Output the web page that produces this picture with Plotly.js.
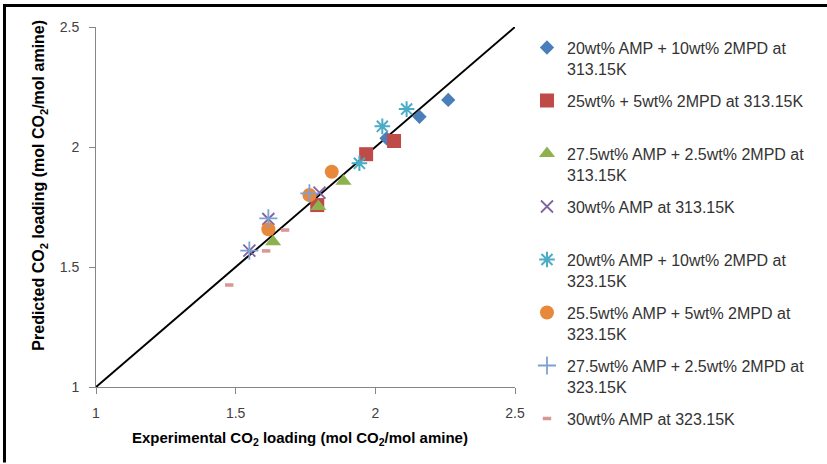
<!DOCTYPE html>
<html>
<head>
<meta charset="utf-8">
<script src="https://cdn.plot.ly/plotly-3.0.1.min.js"></script>
<style>html,body{margin:0;padding:0;background:#fff;}#chart{width:827px;height:464px;}</style>
</head>
<body>
<div id="chart"></div>
<script>
// Series labels (legend)
var seriesNames = [
  "20wt% AMP + 10wt% 2MPD at<br>313.15K",
  "25wt% + 5wt% 2MPD at 313.15K<br>&nbsp;",
  "27.5wt% AMP + 2.5wt% 2MPD at<br>313.15K",
  "30wt% AMP at 313.15K<br>&nbsp;",
  "20wt% AMP + 10wt% 2MPD at<br>323.15K",
  "25.5wt% AMP + 5wt% 2MPD at<br>323.15K",
  "27.5wt% AMP + 2.5wt% 2MPD at<br>323.15K",
  "30wt% AMP at 323.15K<br>&nbsp;"
];
// Experimental (x) and predicted (y) CO2 loading
var s1x = [2.040, 2.158, 2.261], s1y = [2.036, 2.126, 2.196];
var s2x = [1.792, 1.967, 2.067], s2y = [1.758, 1.970, 2.025];
var s3x = [1.634, 1.796, 1.886], s3y = [1.605, 1.752, 1.857];
var s4x = [1.549, 1.617, 1.800], s4y = [1.568, 1.700, 1.810];
var s5x = [1.943, 2.025, 2.112], s5y = [1.932, 2.086, 2.158];
var s6x = [1.617, 1.764, 1.844], s6y = [1.657, 1.800, 1.897];
var s7x = [1.549, 1.617, 1.764], s7y = [1.568, 1.703, 1.807];
var s8x = [1.477, 1.609, 1.677], s8y = [1.425, 1.567, 1.654];
// Parity line y = x
var parityX = [1, 2.5], parityY = [1, 2.5];
var tickVals = [1, 1.5, 2, 2.5];
var tickText = ["1", "1.5", "2", "2.5"];
var xTitle = "Experimental CO<sub>2</sub> loading (mol CO<sub>2</sub>/mol amine)";
var yTitle = "Predicted CO<sub>2</sub> loading (mol CO<sub>2</sub>/mol amine)";

var xs = [s1x, s2x, s3x, s4x, s5x, s6x, s7x, s8x];
var ys = [s1y, s2y, s3y, s4y, s5y, s6y, s7y, s8y];
var styles = [
  {symbol: "diamond", size: 11, color: "#4A7EBB", line: {width: 0}},
  {symbol: "square", size: 14, color: "#BE4B48", line: {width: 0}},
  {symbol: "triangle-up", size: 14, color: "#8EB04E", line: {width: 0}},
  {symbol: "x-thin-open", size: 12, color: "#8064A2", line: {width: 1.8, color: "#8064A2"}},
  {symbol: "asterisk-open", size: 13, color: "#4BACC6", line: {width: 2, color: "#4BACC6"}},
  {symbol: "circle", size: 14, color: "#E8883A", line: {width: 0}},
  {symbol: "cross-thin-open", size: 13, color: "#7EA1D3", line: {width: 1.8, color: "#7EA1D3"}},
  {symbol: "line-ew-open", size: 6, color: "#D99694", line: {width: 3.5, color: "#D99694"}}
];

var traces = [{
  x: parityX, y: parityY, mode: "lines", type: "scatter",
  line: {color: "#000000", width: 2}, showlegend: false, hoverinfo: "skip"
}];
for (var i = 0; i < seriesNames.length; i++) {
  traces.push({
    x: xs[i], y: ys[i], type: "scatter", mode: "markers",
    name: seriesNames[i], legendgroup: "g" + i,
    marker: styles[i]
  });
}

var axisCommon = {
  showgrid: false, zeroline: false, showline: true,
  linecolor: "#868686", linewidth: 1,
  ticks: "outside", ticklen: 6, tickcolor: "#868686",
  tickfont: {family: "Liberation Sans, Arial, sans-serif", size: 14, color: "#404040"},
  tickmode: "array", tickvals: tickVals, ticktext: tickText,
  range: [1, 2.5], fixedrange: true, ticklabelstandoff: 7
};

var layout = {
  width: 827, height: 464,
  margin: {l: 96, r: 312, t: 27, b: 77, pad: 0},
  paper_bgcolor: "#ffffff", plot_bgcolor: "#ffffff",
  xaxis: Object.assign({}, axisCommon),
  yaxis: Object.assign({}, axisCommon),
  showlegend: true,
  legend: {
    x: 1.0286, xanchor: "left", y: 0.99, yanchor: "top",
    font: {family: "Liberation Sans, Arial, sans-serif", size: 16, color: "#333333"},
    traceorder: "grouped", tracegroupgap: 8.4, valign: "top",
    bgcolor: "rgba(0,0,0,0)", borderwidth: 0, itemsizing: "trace",
    maxheight: 455
  },
  annotations: [
    {text: xTitle, xref: "paper", yref: "paper", x: 0.487, y: -0.1417,
     xanchor: "center", yanchor: "middle", showarrow: false,
     font: {family: "Liberation Sans, Arial, sans-serif", size: 15, color: "#000000", weight: "bold"}},
    {text: yTitle, xref: "paper", yref: "paper", x: -0.1337, y: 0.562,
     xanchor: "center", yanchor: "middle", showarrow: false, textangle: -90,
     font: {family: "Liberation Sans, Arial, sans-serif", size: 16, color: "#000000", weight: "bold"}}
  ],
  shapes: [
    {type: "line", xref: "paper", yref: "paper", x0: -0.2196, x1: 1.78, y0: 1.0597, y1: 1.0597,
     line: {color: "#000000", width: 3}},
    {type: "line", xref: "paper", yref: "paper", x0: -0.2184, x1: -0.2184, y0: 1.0639, y1: -0.21,
     line: {color: "#000000", width: 3}}
  ]
};

Plotly.newPlot("chart", traces, layout, {staticPlot: true, displayModeBar: false});
</script>
</body>
</html>
